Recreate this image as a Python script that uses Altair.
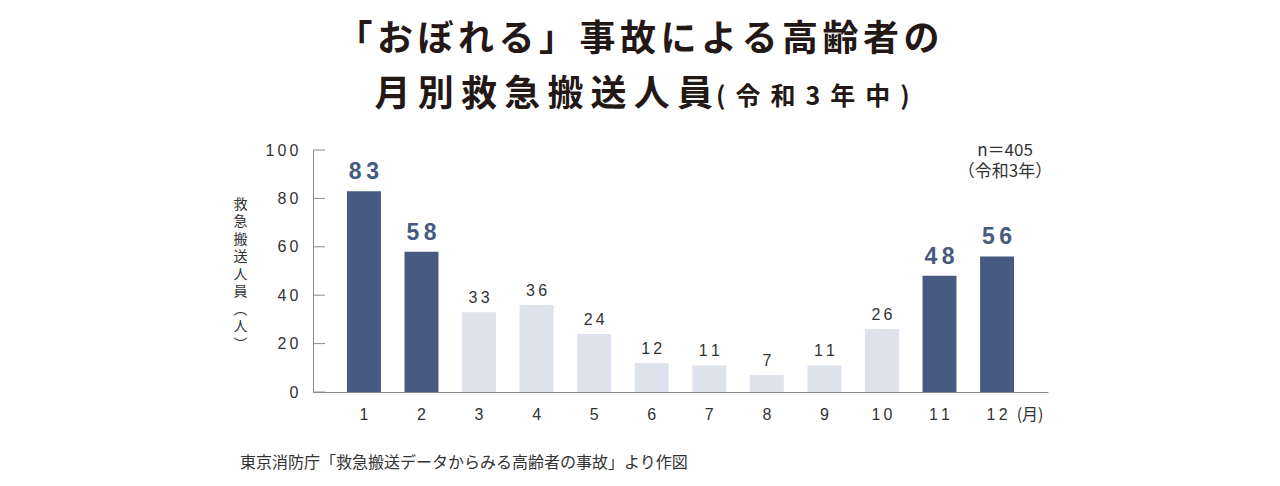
import altair as alt
import pandas as pd

months = ["1", "2", "3", "4", "5", "6", "7", "8", "9", "10", "11", "12"]
counts = [83, 58, 33, 36, 24, 12, 11, 7, 11, 26, 48, 56]
highlight = [True, True, False, False, False, False, False, False, False, False, True, True]
y_ticks = [0, 20, 40, 60, 80, 100]

title_line1 = "「おぼれる」事故による高齢者の"
title_line2a = "月別救急搬送人員"
title_line2b = "(令和3年中)"
y_title = ["救", "急", "搬", "送", "人", "員", "︵", "人", "︶"]
note = ["n＝405", "（令和3年）"]
month_unit = "(月)"
source = "東京消防庁「救急搬送データからみる高齢者の事故」より作図"

THIN = "\u2009"
HAIR = "\u200a"


def spaced(s, sp):
    return sp.join(list(s))


df = pd.DataFrame({"month": months, "count": counts,
                   "grp": ["dark" if h else "light" for h in highlight]})

DARK = "#465a82"
LIGHT = "#dee2ed"
TXT = "#333333"
AXIS = "#8c8c8c"
INK = "#231815"
JP = "Noto Sans CJK JP"
NUM = "Liberation Sans"
SPACE_EXPR = "replace(datum.label, /(\\d)(?=\\d)/g, '$1\u2009')"

x = alt.X("month:N", sort=months,
          scale=alt.Scale(paddingInner=0.41, paddingOuter=0.59),
          axis=alt.Axis(title=None, labelAngle=0, ticks=False, domainColor=AXIS,
                        labelPadding=14, labelFontSize=16, labelColor=TXT, labelFont=NUM,
                        labelExpr=SPACE_EXPR))
y = alt.Y("count:Q", scale=alt.Scale(domain=[0, 100], nice=False),
          axis=alt.Axis(values=y_ticks, ticks=False, grid=False, domainColor=AXIS,
                        labelPadding=15, labelFontSize=16, labelColor=TXT, labelFont=NUM,
                        labelExpr=SPACE_EXPR,
                        title=y_title, titleAngle=0, titleX=-73, titleY=54,
                        titleBaseline="middle", titleAlign="center", titleFont=JP,
                        titleFontSize=14, titleFontWeight="normal", titleLineHeight=17.5,
                        titleColor=TXT))

base = alt.Chart(df).transform_calculate(
    lbl="replace(toString(datum.count), /(\\d)(?=\\d)/g, '$1\u2009')")
bars = base.mark_bar().encode(
    x=x, y=y,
    color=alt.Color("grp:N", scale=alt.Scale(domain=["dark", "light"], range=[DARK, LIGHT]),
                    legend=None))

dark_labels = base.transform_filter(alt.datum.grp == "dark").mark_text(
    font=NUM, fontSize=23, fontWeight="bold", color=DARK, baseline="bottom", dy=-7
).encode(x=x, y=y, text="lbl:N")

light_labels = base.transform_filter(alt.datum.grp == "light").mark_text(
    font=NUM, fontSize=16, color=TXT, baseline="bottom", dy=-6
).encode(x=x, y=y, text="lbl:N")

ticks = alt.Chart(pd.DataFrame({"count": y_ticks})).mark_rule(color=AXIS).encode(
    y=y, x=alt.value(0), x2=alt.value(12))

unit = alt.Chart(pd.DataFrame({"month": ["12"]})).mark_text(
    font=JP, fontSize=16, color=TXT, baseline="middle", dx=33
).encode(x=x, y=alt.value(265), text=alt.value(month_unit))

note_t = alt.Chart(pd.DataFrame({"month": ["12"]})).mark_text(
    font=JP, fontSize=17, color=TXT, baseline="middle", lineHeight=21, dx=8
).encode(x=x, y=alt.value(1), text=alt.value(note))

one = pd.DataFrame({"k": [0]})
t1 = alt.Chart(one).mark_text(font=JP, fontSize=36, fontWeight="bold", color=INK,
                              baseline="middle", align="center").encode(
    x=alt.value(325), y=alt.value(-110), text=alt.value(spaced(title_line1, HAIR + HAIR)))
t2a = alt.Chart(one).mark_text(font=JP, fontSize=36, fontWeight="bold", color=INK,
                               baseline="middle", align="right").encode(
    x=alt.value(400), y=alt.value(-55), text=alt.value(spaced(title_line2a, THIN)))
t2b = alt.Chart(one).mark_text(font=JP, fontSize=25, fontWeight="bold", color=INK,
                               baseline="middle", align="left").encode(
    x=alt.value(403), y=alt.value(-53), text=alt.value(spaced(title_line2b, THIN + THIN)))
src = alt.Chart(one).mark_text(font=JP, fontSize=16, color=TXT,
                               baseline="middle", align="left").encode(
    x=alt.value(-73), y=alt.value(313), text=alt.value(source))

chart = alt.layer(bars, dark_labels, light_labels, ticks, unit, note_t, t1, t2a, t2b, src).properties(
    width=735, height=242,
    padding={"left": 305, "top": 142, "right": 224, "bottom": 86},
    autosize=alt.AutoSizeParams(type="none"),
).configure_view(stroke=None)

chart.save("out.html", embed_options={"renderer": "svg", "actions": False})
